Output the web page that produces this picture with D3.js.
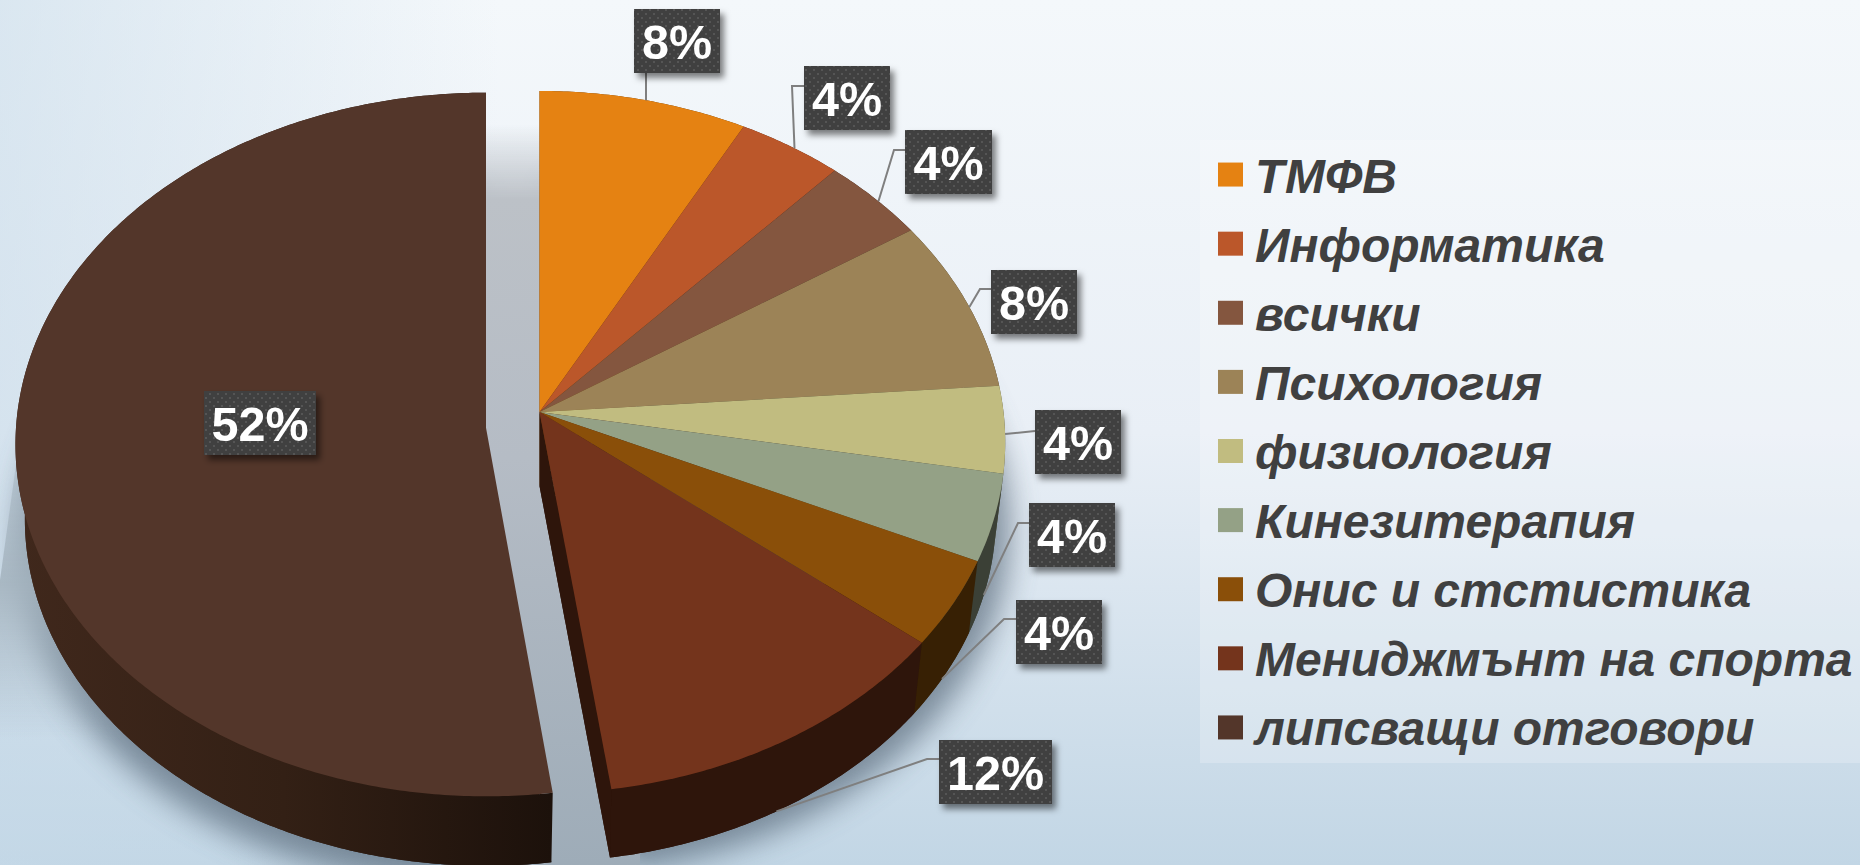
<!DOCTYPE html>
<html>
<head>
<meta charset="utf-8">
<script src="https://cdn.jsdelivr.net/npm/d3@7"></script>
<style>
  html, body { margin: 0; padding: 0; overflow: hidden; background: #e6eef5; }
  svg { display: block; }
  text { font-family: "Liberation Sans", Arial, sans-serif; font-weight: bold; }
</style>
</head>
<body>
<svg id="chart"></svg>
<script>
const categories = ['ТМФВ', 'Информатика', 'всички', 'Психология', 'физиология', 'Кинезитерапия', 'Онис и стстистика', 'Мениджмънт на спорта', 'липсващи отговори'];
const percents = [8, 4, 4, 8, 4, 4, 4, 12, 52];
const colors = ['#e58212', '#bb572a', '#84563f', '#9c8357', '#c1bc80', '#94a186', '#8a4f09', '#74341c', '#53362a'];

// label boxes and elbows, same order as categories
const boxes = [[634, 9, 86], [804, 66, 86], [905, 130, 87], [991, 270, 86], [1035, 410, 86], [1029, 503, 86], [1016, 600, 86], [939, 740, 113], [204, 391, 112]];
const elbows = [[646, 73], [792, 86], [894, 150], [980, 289], null, [1018, 523], [1004, 619], [927, 759], null];
const wallAnchor = [false, false, false, false, false, true, true, true, false];

const w = 1860, h = 865;
const svg = d3.select('#chart').attr('width', w).attr('height', h);
const defs = svg.append('defs');

// perspective discs: the pie and the pulled out slice
// twist is the small angle drift the 3D view puts on the slices
const mainDisc = { x: 539.5, y: 412, a: 464, b: 348.6, k: 0.0859, twist: t => 0.009 * (1 - Math.exp(-t * 5)) + 0.0025 * t };
const outDisc = { x: 486, y: 427.7, a: 470, b: 351, k: 0.0478, twist: t => 0.01 * (2 * Math.PI - t) / 3.27 };
const lower = (d, drop) => ({ ...d, y: d.y + drop, a: d.a * 0.98, b: d.b * 0.985 });
const mainLow = lower(mainDisc, 74);
const outLow = lower(outDisc, 75);

const proj = (d, ang) => {
    const view = ang - d.twist(ang);
    const u = Math.sin(view), v = -Math.cos(view), t = 1 - d.k * v;
    return [d.x + d.a * u / t, d.y + d.b * v / t];
};
const arcPts = (d, a0, a1) => {
    const n = Math.max(2, Math.ceil((a1 - a0) / 0.01));
    return d3.range(n + 1).map(i => proj(d, a0 + (a1 - a0) * i / n));
};
const line = d3.line();
const wedge = (d, a0, a1) => line([[d.x, d.y], ...arcPts(d, a0, a1)]) + 'Z';
const wall = (d, low, a0, a1) => line([...arcPts(d, a0, a1), ...arcPts(low, a0, a1).reverse()]) + 'Z';

const slices = d3.pie().sort(null).value(d => d)(percents);
const last = slices.length - 1;
const discOf = i => i === last ? outDisc : mainDisc;
const lowOf = i => i === last ? outLow : mainLow;

// background
const bg = defs.append('linearGradient').attr('id', 'bg').attr('x1', 0).attr('y1', 0).attr('x2', 0).attr('y2', 1);
bg.append('stop').attr('offset', 0).attr('stop-color', '#f4f8fb');
bg.append('stop').attr('offset', 0.5).attr('stop-color', '#e9eff6');
bg.append('stop').attr('offset', 1).attr('stop-color', '#c2d6e5');
const bgLeft = defs.append('linearGradient').attr('id', 'bgLeft').attr('x1', 0).attr('y1', 0).attr('x2', 1).attr('y2', 0);
bgLeft.append('stop').attr('offset', 0).attr('stop-color', '#c5d9e8').attr('stop-opacity', 0.55);
bgLeft.append('stop').attr('offset', 1).attr('stop-color', '#c5d9e8').attr('stop-opacity', 0);
svg.append('rect').attr('width', w).attr('height', h).attr('fill', 'url(#bg)');
svg.append('rect').attr('width', 500).attr('height', h).attr('fill', 'url(#bgLeft)');

// soft shadow under the pie
defs.append('filter').attr('id', 'blur').attr('x', '-20%').attr('y', '-20%').attr('width', '140%').attr('height', '140%')
    .append('feGaussianBlur').attr('stdDeviation', 15);
const shadow = svg.append('g').attr('filter', 'url(#blur)').attr('fill', '#566878').attr('opacity', 0.7);
shadow.append('path').attr('d', wedge(lower(mainDisc, 62), 0, slices[7].endAngle))
    .attr('transform', 'translate(14,25)');
shadow.append('path').attr('d', wedge(lower(outDisc, 62), slices[last].startAngle, 2 * Math.PI))
    .attr('transform', 'translate(-6,35)');

// grey band in the gap between the two parts
const gapFade = defs.append('linearGradient').attr('id', 'gapFade').attr('x1', 0).attr('y1', 0).attr('x2', 0).attr('y2', 1);
gapFade.append('stop').attr('offset', 0).attr('stop-color', '#bcc1c7').attr('stop-opacity', 0);
gapFade.append('stop').attr('offset', 0.1).attr('stop-color', '#bcc1c7');
gapFade.append('stop').attr('offset', 0.45).attr('stop-color', '#b5bcc5');
gapFade.append('stop').attr('offset', 1).attr('stop-color', '#9eacb8');
svg.append('path').attr('d', line([[470, 125], [640, 125], [640, 865], [470, 865]]) + 'Z').attr('fill', 'url(#gapFade)');

// wedge of shadow at the left border
const leftFade = defs.append('linearGradient').attr('id', 'leftFade').attr('x1', 0).attr('y1', 0).attr('x2', 0).attr('y2', 1);
leftFade.append('stop').attr('offset', 0).attr('stop-color', '#a3b2bd').attr('stop-opacity', 0.1);
leftFade.append('stop').attr('offset', 0.6).attr('stop-color', '#a3b2bd').attr('stop-opacity', 0.85);
leftFade.append('stop').attr('offset', 1).attr('stop-color', '#a3b2bd').attr('stop-opacity', 0);
svg.append('path').attr('d', line([[32, 350], [120, 350], [120, 740], [0, 740], [0, 580]]) + 'Z').attr('fill', 'url(#leftFade)');

// outer walls and bottom faces
const outWall = defs.append('linearGradient').attr('id', 'outWall').attr('gradientUnits', 'userSpaceOnUse')
    .attr('x1', 15).attr('y1', 0).attr('x2', 552).attr('y2', 0);
outWall.append('stop').attr('offset', 0).attr('stop-color', '#40281c');
outWall.append('stop').attr('offset', 0.5).attr('stop-color', '#332015');
outWall.append('stop').attr('offset', 1).attr('stop-color', '#1c110b');
const wallColor = (c, i) => {
    if (i === last) return 'url(#outWall)';
    const r = d3.rgb(c);
    return d3.rgb(r.r * 0.4, r.g * 0.4, r.b * 0.4).formatHex();
};
const pies = svg.append('g');
slices.forEach((s, i) => {
    const fill = wallColor(colors[i], i);
    pies.append('path').attr('d', wedge(lowOf(i), s.startAngle, s.endAngle)).attr('fill', fill);
    pies.append('path').attr('d', wall(discOf(i), lowOf(i), s.startAngle, s.endAngle)).attr('fill', fill);
});
// cut face of the slice next to the gap
const cutAng = slices[7].endAngle;
pies.append('path')
    .attr('d', line([[mainDisc.x, mainDisc.y], proj(mainDisc, cutAng), proj(mainLow, cutAng), [mainLow.x, mainLow.y]]) + 'Z')
    .attr('fill', wallColor(colors[7], 7));
// top faces
pies.selectAll('path.top').data(slices).join('path').attr('class', 'top')
    .attr('d', (s, i) => wedge(discOf(i), s.startAngle, s.endAngle))
    .attr('fill', (s, i) => colors[i]);

// leader lines, they sit on the plain mid angle
const leaders = svg.append('g').attr('fill', 'none').attr('stroke', '#7f7f7f').attr('stroke-width', 2);
slices.forEach((s, i) => {
    if (i === last) return;
    const mid = (s.startAngle + s.endAngle) / 2;
    const end = proj({ ...(wallAnchor[i] ? mainLow : mainDisc), twist: () => 0 }, mid);
    const b = boxes[i];
    const pts = [];
    if (i === 0) pts.push(elbows[i]);
    else if (elbows[i]) pts.push([b[0], elbows[i][1]], elbows[i]);
    else pts.push([b[0], end[1] - 3]);
    leaders.append('path').attr('d', line([...pts, end]));
});

// data labels
const dots = defs.append('pattern').attr('id', 'dots').attr('patternUnits', 'userSpaceOnUse').attr('width', 8).attr('height', 8);
dots.append('rect').attr('width', 8).attr('height', 8).attr('fill', '#404040');
dots.append('circle').attr('cx', 2).attr('cy', 2).attr('r', 1).attr('fill', '#5c5c5c');
dots.append('circle').attr('cx', 6).attr('cy', 6).attr('r', 1).attr('fill', '#5c5c5c');
const ds = defs.append('filter').attr('id', 'boxShadow').attr('x', '-20%').attr('y', '-20%').attr('width', '150%').attr('height', '150%');
ds.append('feDropShadow').attr('dx', 4).attr('dy', 5).attr('stdDeviation', 3).attr('flood-color', '#000').attr('flood-opacity', 0.5);

const labels = svg.selectAll('g.label').data(percents).join('g').attr('class', 'label');
labels.append('rect')
    .attr('x', (d, i) => boxes[i][0]).attr('y', (d, i) => boxes[i][1])
    .attr('width', (d, i) => boxes[i][2]).attr('height', 64)
    .attr('fill', 'url(#dots)').attr('filter', 'url(#boxShadow)');
labels.append('text')
    .attr('x', (d, i) => boxes[i][0] + boxes[i][2] / 2).attr('y', (d, i) => boxes[i][1] + 50)
    .attr('text-anchor', 'middle').attr('font-size', 48.5).attr('fill', '#fff')
    .text(d => d + '%');

// legend
svg.append('rect').attr('x', 1200).attr('y', 140).attr('width', 660).attr('height', 623).attr('fill', '#fff').attr('opacity', 0.22);
const rowY = d3.scaleBand().domain(categories).range([140, 762]).paddingInner(0).paddingOuter(0);
const legend = svg.selectAll('g.legend').data(categories).join('g').attr('class', 'legend')
    .attr('transform', d => `translate(1218,${rowY(d) + rowY.bandwidth() / 2})`);
legend.append('rect').attr('y', -12).attr('width', 25).attr('height', 24).attr('fill', (d, i) => colors[i]);
legend.append('text').attr('x', 37).attr('y', 18).attr('font-size', 48).attr('font-style', 'italic').attr('fill', '#404040').text(d => d);
</script>
</body>
</html>
